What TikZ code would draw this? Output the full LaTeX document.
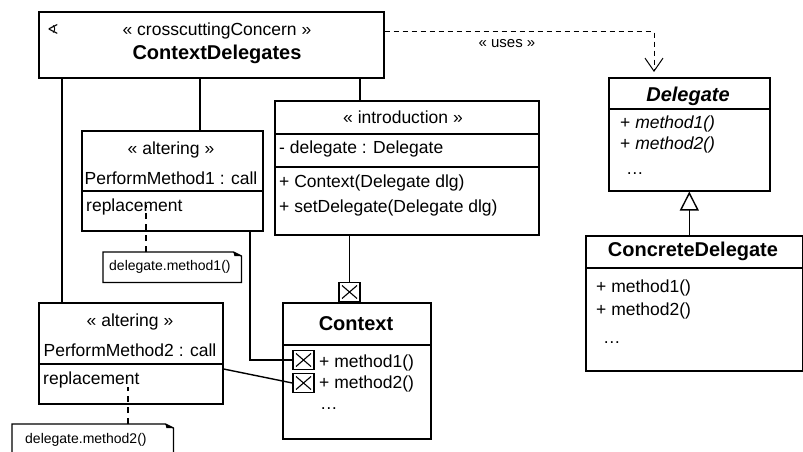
\documentclass[tikz,border=0pt]{standalone}
\usepackage{fontspec}
\setmainfont{Liberation Sans}
\newfontfamily\symfont{DejaVu Sans}
\usetikzlibrary{arrows.meta,calc,positioning}

\begin{document}
\begin{tikzpicture}[x=1pt,y=-1pt,>=Latex,
  box/.style={draw,line width=1.6pt,anchor=north west,inner sep=0pt},
  sep/.style={line width=1.6pt},
  link/.style={line width=1.4pt},
  dep/.style={line width=1pt,dash pattern=on 5pt off 4pt},
  notelink/.style={line width=1.4pt,dash pattern=on 6pt off 5pt},
  txt/.style={font=\fontsize{17.5}{20}\selectfont,inner sep=0pt},
  ttl/.style={font=\fontsize{20}{24}\selectfont\bfseries,inner sep=0pt},
  notetxt/.style={font=\fontsize{14}{16}\selectfont,inner sep=0pt},
  xbox/.style={draw,line width=1.3pt,fill=white,inner sep=0pt,minimum width=21pt,minimum height=19pt,
    path picture={\draw[line width=1.1pt]
      ([shift={(3pt,-3pt)}]path picture bounding box.north west) -- ([shift={(-3pt,3pt)}]path picture bounding box.south east)
      ([shift={(-3pt,-3pt)}]path picture bounding box.north east) -- ([shift={(3pt,3pt)}]path picture bounding box.south west);}}]
  \useasboundingbox (0,0) rectangle (803,452);
  \clip (0,0) rectangle (803,452);

  % aspect
  \node[box,minimum width=345pt,minimum height=66pt] (cd) at (38,11) {};
  \node[inner sep=0pt] (cdsym) at (53,29) {\symfont\fontsize{14}{16}\selectfont ∢};
  \node[txt] (cdst) at (217,31) {« crosscuttingConcern »};
  \node[ttl] (cdname) at (217,54) {ContextDelegates};

  % first altering
  \node[box,minimum width=181pt,minimum height=100pt] (alt1) at (81,130) {};
  \draw[sep] ([yshift=-61pt]alt1.north west) -- ([yshift=-61pt]alt1.north east);
  \node[txt] (alt1st) at (171,150) {« altering »};
  \node[txt] (alt1op) at (171,178) {PerformMethod1 : call};
  \node[txt,anchor=west] (alt1rep) at (86,207) {replacement};

  % introduction
  \node[box,minimum width=264pt,minimum height=134pt] (intro) at (274,100) {};
  \draw[sep] ([yshift=-34pt]intro.north west) -- ([yshift=-34pt]intro.north east);
  \draw[sep] ([yshift=-67pt]intro.north west) -- ([yshift=-67pt]intro.north east);
  \node[txt] (introst) at (403,117) {« introduction »};
  \node[txt,anchor=west] (introatt) at (279,149) {- delegate : Delegate};
  \node[txt,anchor=west] (introop1) at (279,183) {+ Context(Delegate dlg)};
  \node[txt,anchor=west] (introop2) at (279,208) {+ setDelegate(Delegate dlg)};

  % second altering
  \node[box,minimum width=184pt,minimum height=101pt] (alt2) at (38,302) {};
  \draw[sep] ([yshift=-62pt]alt2.north west) -- ([yshift=-62pt]alt2.north east);
  \node[txt] (alt2st) at (130,322) {« altering »};
  \node[txt] (alt2op) at (130,350) {PerformMethod2 : call};
  \node[txt,anchor=west] (alt2rep) at (43,380) {replacement};

  % context class
  \node[box,minimum width=148pt,minimum height=136pt] (ctx) at (282,302) {};
  \draw[sep] ([yshift=-43pt]ctx.north west) -- ([yshift=-43pt]ctx.north east);
  \node[ttl] (ctxname) at (356,324) {Context};
  \node[txt,anchor=west] (ctxop1) at (319,363) {+ method1()};
  \node[txt,anchor=west] (ctxop2) at (319,384) {+ method2()};
  \node[txt,anchor=base west] (ctxmore) at (320,409) {…};

  % delegate classes
  \node[box,minimum width=161pt,minimum height=113pt] (del) at (608,77) {};
  \draw[sep] ([yshift=-32pt]del.north west) -- ([yshift=-32pt]del.north east);
  \node[ttl] (delname) at (688,96) {\itshape Delegate};
  \node[txt,anchor=west] (delop1) at (620,124) {+ \textit{method1()}};
  \node[txt,anchor=west] (delop2) at (620,145) {+ \textit{method2()}};
  \node[txt,anchor=base west] (delmore) at (626,174) {…};

  \node[box,minimum width=217pt,minimum height=135pt] (cdl) at (585,235) {};
  \draw[sep] ([yshift=-33pt]cdl.north west) -- ([yshift=-33pt]cdl.north east);
  \node[ttl] (cdlname) at (693,251) {ConcreteDelegate};
  \node[txt,anchor=west] (cdlop1) at (596,288) {+ method1()};
  \node[txt,anchor=west] (cdlop2) at (596,311) {+ method2()};
  \node[txt,anchor=base west] (cdlmore) at (603,343) {…};

  % notes
  \node[anchor=north west,inner sep=0pt,minimum width=138pt,minimum height=30pt] (note1) at (103,252) {};
  \draw[line width=1.3pt] (note1.north west) -- ([xshift=-8pt]note1.north east) -- ([yshift=-4pt]note1.north east)
    -- (note1.south east) -- (note1.south west) -- cycle;
  \fill ([xshift=-8pt]note1.north east) -- ([yshift=-4pt]note1.north east) -- ([xshift=-7pt,yshift=-4pt]note1.north east) -- cycle;
  \node[notetxt,anchor=west] (note1txt) at (109,267) {delegate.method1()};

  \node[anchor=north west,inner sep=0pt,minimum width=161pt,minimum height=38pt] (note2) at (12,424) {};
  \draw[line width=1.3pt] (note2.north west) -- ([xshift=-8pt]note2.north east) -- ([yshift=-4pt]note2.north east)
    -- (note2.south east) -- (note2.south west) -- cycle;
  \fill ([xshift=-8pt]note2.north east) -- ([yshift=-4pt]note2.north east) -- ([xshift=-7pt,yshift=-4pt]note2.north east) -- cycle;
  \node[notetxt,anchor=west] (note2txt) at (25,440) {delegate.method2()};

  % containment of the parts
  \coordinate (alt1top) at ([xshift=119pt]alt1.north west);
  \coordinate (introtop) at ([xshift=86pt]intro.north west);
  \coordinate (alt2top) at ([xshift=24pt]alt2.north west);
  \draw[link] (alt1top) -- (alt1top |- cd.south);
  \draw[link] (introtop) -- (introtop |- cd.south);
  \draw[link] (alt2top) -- (alt2top |- cd.south);

  % crosscut points
  \node[xbox] (cxtop) at (349.5,292) {};
  \node[xbox] (cxm1) at (303.5,360) {};
  \node[xbox] (cxm2) at (303.5,383) {};
  \coordinate (alt1bot) at ([xshift=169pt]alt1.south west);
  \draw[link] (cxtop.north) -- (cxtop.north |- intro.south);
  \draw[link] (alt1bot) |- (cxm1.west);
  \draw[link] ([yshift=-67pt]alt2.north east) -- (cxm2.west);

  % note links
  \draw[notelink] ([xshift=43pt]note1.north west) -- ++(0,-47);
  \draw[notelink] ([xshift=116pt]note2.north west) -- ++(0,-37);

  % uses and generalization
  \draw[dep,-{Straight Barb[width=18pt,length=13pt]}] ([yshift=-21pt]cd.north east) -| ([xshift=46pt,yshift=5pt]del.north west);
  \node[txt,font=\fontsize{15}{17}\selectfont] (useslbl) at (507,44) {« uses »};
  \draw[link,-{Triangle[open,width=19pt,length=19pt,fill=white]}] (cdl.north -| del.south) -- (del.south);
\end{tikzpicture}
\end{document}
